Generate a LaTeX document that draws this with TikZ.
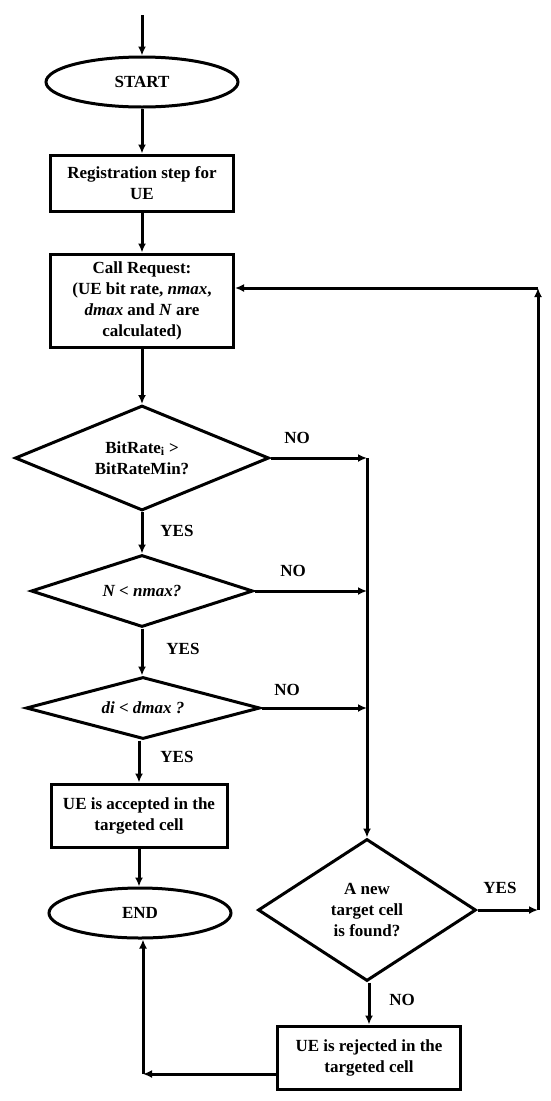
\documentclass[tikz,border=0pt]{standalone}
\usepackage{fontspec}
\setmainfont{Liberation Serif}
\usetikzlibrary{arrows.meta,shapes.geometric}
\tikzset{
  base/.style={draw=black,line width=3pt,font=\bfseries\fontsize{17}{21}\selectfont,align=center,inner sep=0pt},
  procbox/.style={base,rectangle},
  term/.style={base,ellipse},
  decision/.style={base,diamond},
  arr/.style={line width=3pt,-{Latex[length=9pt,width=8pt]}},
  lbl/.style={font=\bfseries\fontsize{17}{21}\selectfont,inner sep=0pt}
}
\begin{document}
\begin{tikzpicture}[x=1pt,y=-1pt]
\useasboundingbox (0,0) rectangle (550,1101);
% nodes
\coordinate (top) at (142,15);
\node[term,minimum width=192pt,minimum height=50pt] (start) at (142,82) {START};
\node[procbox,minimum width=183pt,minimum height=56pt] (reg) at (142,183) {Registration step for\\UE};
\node[procbox,minimum width=183pt,minimum height=93pt] (call) at (142,300.5) {Call Request:\\(UE bit rate, \textit{nmax},\\\textit{dmax} and \textit{N} are\\calculated)};
\node[decision,minimum width=254pt,minimum height=105pt,aspect=2.4] (d1) at (142,458) {BitRate\textsubscript{i} >\\BitRateMin?};
\node[decision,minimum width=222pt,minimum height=72pt,aspect=3.1] (d2) at (142,591) {\textit{N < nmax?}};
\node[decision,minimum width=234pt,minimum height=62pt,aspect=3.8] (d3) at (143,708) {\textit{di < dmax ?}};
\node[procbox,minimum width=176pt,minimum height=63pt] (acc) at (139,815.5) {UE is accepted in the\\targeted cell};
\node[term,minimum width=182pt,minimum height=50pt] (end) at (140,913) {END};
\node[decision,minimum width=218pt,minimum height=142pt,aspect=1.53] (d4) at (367,910) {A new\\target cell\\is found?};
\node[procbox,minimum width=183pt,minimum height=63pt] (rej) at (369,1057.5) {UE is rejected in the\\targeted cell};
% junction coordinates
\coordinate (j1) at (367,458);
\coordinate (j2) at (367,591);
\coordinate (j3) at (367,708);
\coordinate (r1) at (538,910);
\coordinate (r2) at (538,288);
\coordinate (c1) at (143,1074);
% connectors
\draw[arr] (top) -- (start.north);
\draw[arr] (start.south) -- (reg.north);
\draw[arr] (reg.south) -- (call.north);
\draw[arr] (call.south) -- (d1.north);
\draw[arr] (d1.south) -- (d2.north);
\draw[arr] (d2.south) -- (d3.north -| d2.south);
\draw[arr] (d3.south -| acc.north) -- (acc.north);
\draw[arr] (acc.south) -- (end.north -| acc.south);
\draw[arr] (d1.east) -- (j1);
\draw[arr] (d2.east) -- (j2);
\draw[arr] (d3.east) -- (j3);
\draw[arr] (j1) -- (d4.north);
\draw[arr] (d4.east) -- (r1);
\draw[arr] (r1) -- (r2);
\draw[arr] (r2) -- (call.east |- r2);
\draw[arr] (d4.south -| rej.north) -- (rej.north);
\draw[arr] (rej.west |- c1) -- (c1);
\draw[arr] (c1) -- (end.south -| c1);
% labels
\node[lbl] (n1) at (297,438) {NO};
\node[lbl] (n2) at (293,571) {NO};
\node[lbl] (n3) at (287,690) {NO};
\node[lbl] (y1) at (177,531) {YES};
\node[lbl] (y2) at (183,649) {YES};
\node[lbl] (y3) at (177,757) {YES};
\node[lbl] (y4) at (500,888) {YES};
\node[lbl] (n4) at (402,1000) {NO};
\end{tikzpicture}
\end{document}
